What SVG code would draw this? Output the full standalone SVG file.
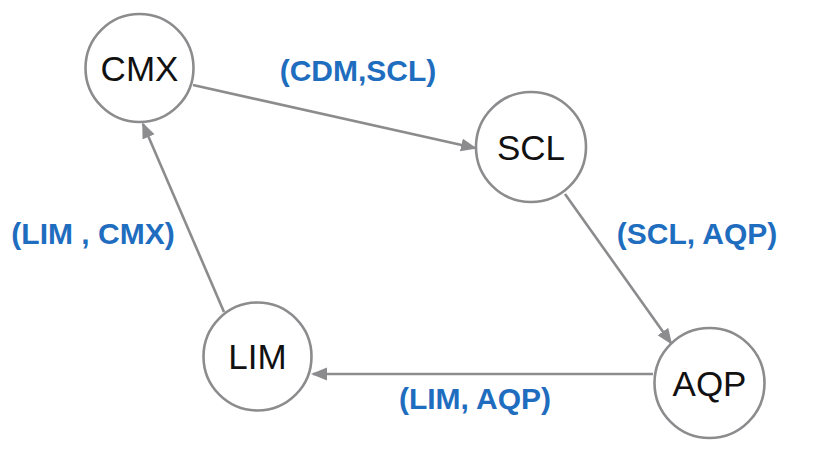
<svg xmlns="http://www.w3.org/2000/svg" width="826" height="476" viewBox="0 0 826 476">
<style>
.node circle{fill:#fff;stroke:#8c8c8e;stroke-width:2.6}
.node text{font-family:"Liberation Sans",Arial,sans-serif;font-size:35px;fill:#111;text-anchor:middle}
.edge{stroke:#8c8c8e;stroke-width:2.6;fill:none;marker-end:url(#arr)}
.lbl{font-family:"Liberation Sans",Arial,sans-serif;font-size:30px;font-weight:bold;fill:#1f6dbf;text-anchor:middle}
</style>
<defs>
<marker id="arr" markerUnits="userSpaceOnUse" markerWidth="16" markerHeight="14" refX="14" refY="6.5" orient="auto">
<path d="M0,0 L16,6.5 L0,13 Z" fill="#8c8c8e"/>
</marker>
</defs>
<rect width="826" height="476" fill="#fff"/>
<g id="connectors">
<line class="edge" x1="193" y1="85" x2="475" y2="148"/>
<line class="edge" x1="565" y1="194" x2="671" y2="343"/>
<line class="edge" x1="653" y1="374" x2="313" y2="374"/>
<line class="edge" x1="224" y1="312" x2="143" y2="124"/>
</g>
<g id="labels">
<text class="lbl" x="358" y="81">(CDM,SCL)</text>
<text class="lbl" x="697" y="244">(SCL, AQP)</text>
<text class="lbl" x="93" y="244">(LIM , CMX)</text>
<text class="lbl" x="475" y="409">(LIM, AQP)</text>
</g>
<g id="CMX" class="node"><circle cx="139.5" cy="68" r="54"/><text x="139.5" y="81">CMX</text></g>
<g id="SCL" class="node"><circle cx="531" cy="147" r="55"/><text x="531" y="160">SCL</text></g>
<g id="AQP" class="node"><circle cx="709.5" cy="383" r="55"/><text x="709.5" y="396">AQP</text></g>
<g id="LIM" class="node"><circle cx="257.5" cy="356.5" r="54"/><text x="257.5" y="369">LIM</text></g>
</svg>
